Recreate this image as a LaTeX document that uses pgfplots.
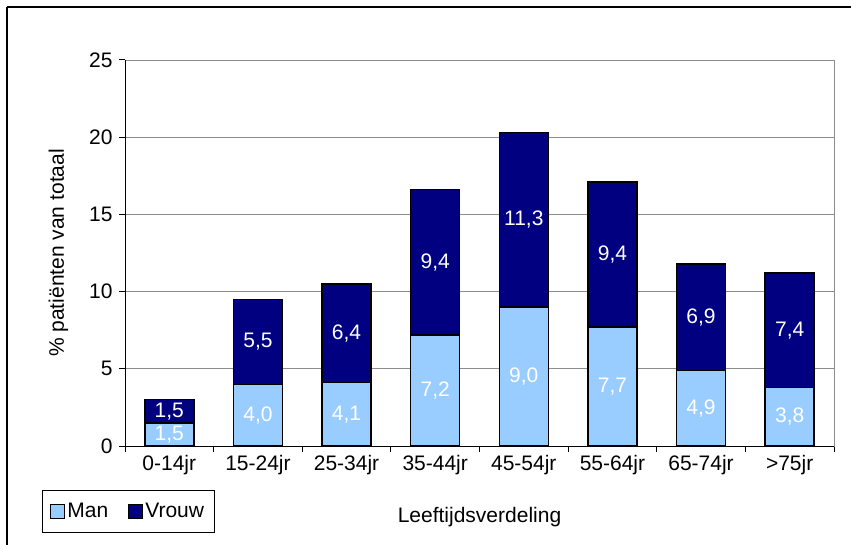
\documentclass[border=0pt]{standalone}
\usepackage{pgfplots}
\pgfplotsset{compat=1.18}
\usepackage{fontspec}
\setmainfont{Liberation Sans}
\definecolor{manc}{HTML}{99CCFF}
\definecolor{vrouwc}{HTML}{000080}
\begin{document}
\begin{tikzpicture}[x=1pt,y=1pt]
\path[use as bounding box] (0,0) rectangle (851,544);
\draw[line width=1.4pt] (7,537) -- (900,537);
\draw[line width=1.4pt] (7,537) -- (7,-10);
\begin{axis}[
 at={(125pt,98pt)}, anchor=south west,
 scale only axis, width=709pt, height=386pt,
 ybar stacked, bar width=49pt,
 xmin=-0.5, xmax=7.5, ymin=0, ymax=25,
 xtick={0,...,7},
 xticklabels={0-14jr,15-24jr,25-34jr,35-44jr,45-54jr,55-64jr,65-74jr,>75jr},
 minor xtick={-0.5,0.5,...,7.5},
 ytick={0,5,...,25},
 xtick pos=bottom, ytick pos=left,
 tick align=outside,
 major tick length=6pt, minor tick length=6pt,
 major x tick style={draw=none},
 minor x tick style={black, line width=1pt},
 y tick style={black, line width=1pt},
 ymajorgrids, grid style={gray!90, line width=0.9pt},
 axis line style={gray!90, line width=0.9pt},
 /pgf/number format/assume math mode=true,
 ticklabel style={font=\fontsize{21}{25}\selectfont},
 yticklabel shift=3pt,
 xticklabel shift=0pt,
 label style={font=\fontsize{21}{25}\selectfont},
 xlabel={Leeftijdsverdeling},
 ylabel={\% patiënten van totaal},
 xlabel style={at={(axis description cs:0.5,-0.184)}, anchor=center},
 ylabel style={at={(axis description cs:-0.094,0.5)}, anchor=center},
 legend style={at={(axis description cs:-0.117,-0.225)}, anchor=south west,
   legend columns=2, draw=black, line width=0.9pt, font=\fontsize{21}{25}\selectfont,
   inner xsep=8pt, inner ysep=11pt,
   /tikz/every even column/.append style={column sep=18pt}},
 legend image code/.code={\draw[#1, draw=black, line width=1pt] (0pt,-7pt) rectangle (14pt,7pt);},
]
\addplot[fill=manc, draw=black, line width=1.4pt] coordinates {(0,1.5) (1,4.0) (2,4.1) (3,7.2) (4,9.0) (5,7.7) (6,4.9) (7,3.8)};
\addplot[fill=vrouwc, draw=black, line width=1.4pt] coordinates {(0,1.5) (1,5.5) (2,6.4) (3,9.4) (4,11.3) (5,9.4) (6,6.9) (7,7.4)};
\legend{Man,Vrouw}
\draw[black, line width=1pt] (rel axis cs:0,1) -- (rel axis cs:0,0) -- (rel axis cs:1,0);
\end{axis}
\begin{axis}[
 at={(125pt,98pt)}, anchor=south west,
 scale only axis, width=709pt, height=386pt,
 xmin=-0.5, xmax=7.5, ymin=0, ymax=25, hide axis,
]
\addplot[draw=none, mark=none, nodes near coords={\pgfmathprintnumber[fixed,fixed zerofill,precision=1,use comma,assume math mode=true]{\pgfplotspointmeta}},
 point meta=explicit,
 every node near coord/.append style={anchor=center, text=white, font=\fontsize{21}{25}\selectfont}]
 table[meta=m] {
x y m
0 0.75 1.5
1 2.0 4.0
2 2.05 4.1
3 3.6 7.2
4 4.5 9.0
5 3.85 7.7
6 2.45 4.9
7 1.9 3.8
0 2.25 1.5
1 6.75 5.5
2 7.3 6.4
3 11.9 9.4
4 14.65 11.3
5 12.4 9.4
6 8.35 6.9
7 7.5 7.4
};
\end{axis}
\end{tikzpicture}
\end{document}
